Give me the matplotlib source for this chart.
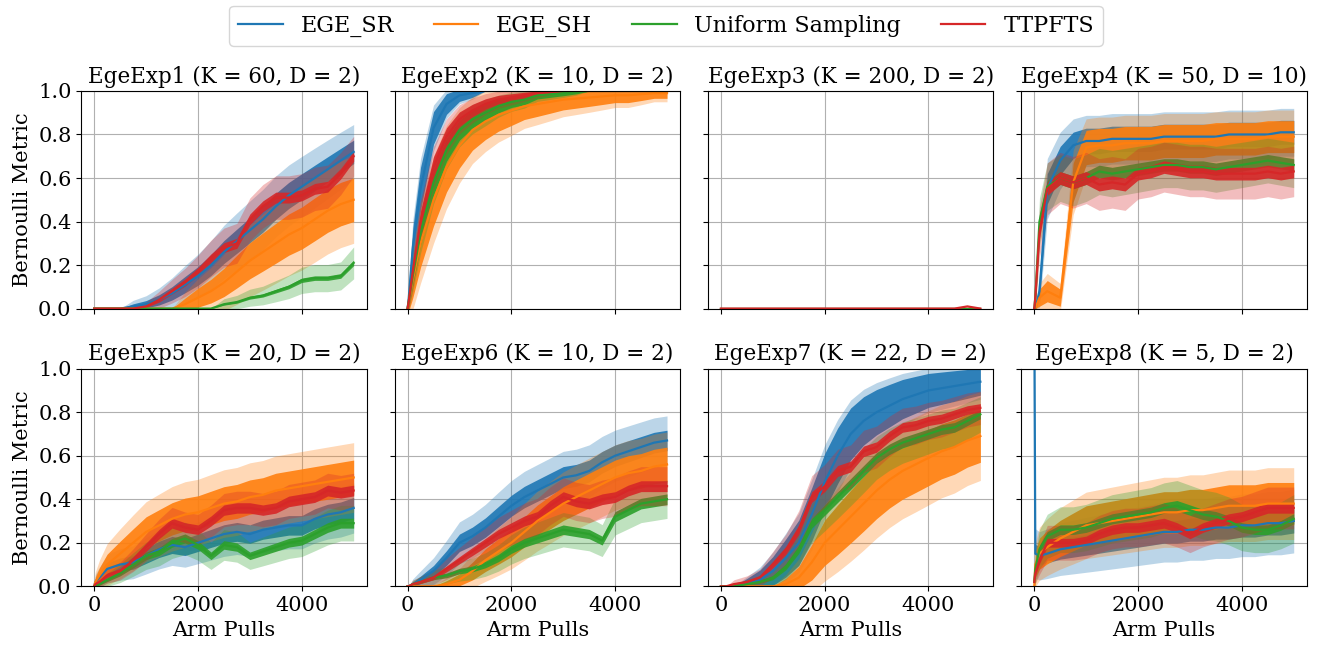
import matplotlib
matplotlib.use("Agg")
import matplotlib.pyplot as plt
import numpy as np

plt.rcParams['font.family'] = 'serif'
plt.rcParams['font.serif'] = ['DejaVu Serif']
plt.rcParams['font.size'] = 15

pulls = [0, 20, 100] + list(range(250, 5001, 250))

methods = ["EGE_SR", "EGE_SH", "Uniform Sampling", "TTPFTS"]
colors = ["tab:blue", "tab:orange", "tab:green", "tab:red"]

titles = ["EgeExp1 (K = 60, D = 2)", "EgeExp2 (K = 10, D = 2)",
          "EgeExp3 (K = 200, D = 2)", "EgeExp4 (K = 50, D = 10)",
          "EgeExp5 (K = 20, D = 2)", "EgeExp6 (K = 10, D = 2)",
          "EgeExp7 (K = 22, D = 2)", "EgeExp8 (K = 5, D = 2)"]

# mean Bernoulli metric, one list per method and experiment
sr1 = [0,0,0,0,0,0.01,0.02,0.04,0.07,0.11,0.15,0.2,0.26,0.31,0.36,0.41,0.47,0.52,0.56,0.6,0.64,0.68,0.72]
sh1 = [0,0,0,0,0,0,0,0,0,0.02,0.05,0.08,0.12,0.17,0.22,0.26,0.3,0.34,0.37,0.41,0.45,0.48,0.5]
us1 = [0,0,0,0,0,0,0,0,0,0,0,0,0.02,0.03,0.05,0.06,0.08,0.1,0.13,0.14,0.14,0.15,0.21]
tt1 = [0,0,0,0,0,0,0.01,0.04,0.08,0.12,0.17,0.23,0.28,0.3,0.41,0.47,0.51,0.51,0.52,0.55,0.56,0.62,0.7]

sr2 = [0,0.04,0.28,0.55,0.83,0.94,0.98,0.99,1,1,1,1,1,1,1,1,1,1,1,1,1,1,1]
sh2 = [0,0.02,0.13,0.3,0.5,0.65,0.75,0.82,0.86,0.89,0.91,0.93,0.94,0.95,0.96,0.965,0.97,0.975,0.98,0.98,0.985,0.99,0.99]
us2 = [0,0.03,0.15,0.35,0.58,0.73,0.82,0.87,0.9,0.93,0.95,0.96,0.98,0.985,0.99,0.995,1,1,1,1,1,1,1]
tt2 = [0,0.03,0.17,0.4,0.65,0.79,0.87,0.91,0.94,0.96,0.97,0.98,0.99,0.995,1,1,1,1,1,1,1,1,1]

sr3 = [0]*23
sh3 = [0]*23
us3 = [0]*23
tt3 = [0,0,0,0,0,0,0,0,0,0,0,0,0,0,0,0,0,0,0,0,0,0.01,0]

sr4 = [0,0,0.08,0.55,0.68,0.75,0.77,0.77,0.78,0.78,0.78,0.78,0.79,0.79,0.79,0.79,0.79,0.8,0.8,0.8,0.8,0.81,0.81]
sh4 = [0,0,0.05,0.08,0.05,0.58,0.74,0.75,0.75,0.76,0.76,0.76,0.77,0.77,0.77,0.77,0.78,0.78,0.78,0.78,0.79,0.79,0.79]
us4 = [0,0.05,0.4,0.56,0.6,0.58,0.6,0.63,0.62,0.63,0.64,0.65,0.66,0.66,0.65,0.65,0.64,0.65,0.66,0.67,0.68,0.67,0.66]
tt4 = [0,0.05,0.35,0.55,0.6,0.58,0.6,0.57,0.58,0.57,0.62,0.63,0.65,0.64,0.63,0.63,0.62,0.62,0.62,0.62,0.63,0.62,0.63]

sr5 = [0,0.02,0.04,0.08,0.1,0.11,0.14,0.17,0.19,0.18,0.2,0.22,0.24,0.25,0.24,0.26,0.27,0.28,0.28,0.31,0.33,0.34,0.36]
sh5 = [0,0.02,0.05,0.1,0.15,0.2,0.25,0.28,0.31,0.33,0.34,0.36,0.38,0.39,0.41,0.42,0.44,0.45,0.46,0.47,0.48,0.49,0.5]
us5 = [0,0,0.01,0.03,0.06,0.1,0.14,0.16,0.2,0.22,0.19,0.14,0.19,0.18,0.14,0.16,0.18,0.2,0.21,0.24,0.27,0.29,0.29]
tt5 = [0,0.01,0.02,0.05,0.07,0.12,0.18,0.24,0.29,0.27,0.26,0.3,0.35,0.36,0.36,0.35,0.36,0.39,0.4,0.41,0.44,0.43,0.44]

sr6 = [0,0,0.01,0.03,0.07,0.13,0.2,0.23,0.27,0.32,0.37,0.41,0.44,0.47,0.5,0.51,0.53,0.57,0.6,0.62,0.64,0.66,0.67]
sh6 = [0,0,0,0,0,0.01,0.03,0.07,0.12,0.16,0.2,0.25,0.3,0.34,0.38,0.41,0.44,0.47,0.5,0.52,0.53,0.55,0.56]
us6 = [0,0,0.01,0.02,0.04,0.05,0.07,0.08,0.1,0.13,0.17,0.2,0.22,0.24,0.26,0.25,0.24,0.21,0.32,0.35,0.38,0.39,0.4]
tt6 = [0,0,0.01,0.02,0.04,0.08,0.12,0.16,0.2,0.24,0.27,0.3,0.32,0.37,0.41,0.39,0.38,0.4,0.41,0.44,0.46,0.46,0.46]

sr7 = [0,0,0,0,0.01,0.03,0.07,0.13,0.2,0.33,0.48,0.6,0.7,0.76,0.8,0.83,0.86,0.88,0.9,0.91,0.92,0.93,0.94]
sh7 = [0,0,0,0,0,0,0,0.01,0.04,0.11,0.2,0.26,0.32,0.38,0.44,0.49,0.53,0.56,0.59,0.62,0.64,0.67,0.69]
us7 = [0,0,0,0,0.01,0.02,0.04,0.09,0.17,0.29,0.35,0.41,0.47,0.53,0.59,0.63,0.66,0.68,0.7,0.72,0.73,0.76,0.79]
tt7 = [0,0,0,0.01,0.02,0.04,0.1,0.165,0.26,0.41,0.46,0.53,0.55,0.62,0.64,0.69,0.73,0.74,0.76,0.77,0.79,0.81,0.82]

sr8 = [1.3,0.15,0.14,0.15,0.17,0.18,0.19,0.2,0.21,0.22,0.23,0.24,0.25,0.25,0.26,0.26,0.27,0.27,0.28,0.28,0.29,0.29,0.3]
sh8 = [0,0.1,0.15,0.18,0.22,0.25,0.28,0.29,0.3,0.31,0.32,0.33,0.34,0.34,0.35,0.35,0.36,0.37,0.37,0.37,0.38,0.38,0.38]
us8 = [0.02,0.08,0.17,0.23,0.26,0.26,0.27,0.29,0.31,0.32,0.33,0.34,0.36,0.37,0.35,0.33,0.32,0.3,0.27,0.26,0.26,0.28,0.31]
tt8 = [0.02,0.06,0.12,0.2,0.2,0.2,0.21,0.24,0.26,0.27,0.27,0.28,0.29,0.27,0.24,0.27,0.29,0.31,0.32,0.34,0.36,0.36,0.36]

results = [(sr1, sh1, us1, tt1), (sr2, sh2, us2, tt2), (sr3, sh3, us3, tt3),
           (sr4, sh4, us4, tt4), (sr5, sh5, us5, tt5), (sr6, sh6, us6, tt6),
           (sr7, sh7, us7, tt7), (sr8, sh8, us8, tt8)]

# run-to-run jitter of the mean curve (at metric 0.5), per experiment and method
spread = [[0.06, 0.1, 0.015, 0.025], [0.1, 0.12, 0.06, 0.05], [0, 0, 0, 0],
          [0.07, 0.09, 0.03, 0.03], [0.05, 0.08, 0.025, 0.025], [0.05, 0.08, 0.025, 0.025],
          [0.13, 0.13, 0.025, 0.025], [0.06, 0.1, 0.025, 0.025]]
# width of the shaded interval (at metric 0.5)
band = [[0.14, 0.2, 0.09, 0.1], [0.14, 0.2, 0.1, 0.1], [0, 0, 0, 0],
        [0.14, 0.15, 0.11, 0.12], [0.12, 0.16, 0.09, 0.08], [0.12, 0.15, 0.09, 0.09],
        [0.17, 0.22, 0.1, 0.1], [0.16, 0.17, 0.12, 0.1]]

fig, axes = plt.subplots(2, 4, figsize=(13.32, 6.45), dpi=100, sharex=True, sharey=True)
plt.subplots_adjust(left=0.061, right=0.981, top=0.859, bottom=0.091, wspace=0.098, hspace=0.276)

x = np.array(pulls, dtype=float)
for i, ax in enumerate(axes.flat):
    for j in range(4):
        m = np.array(results[i][j], dtype=float)
        mc = np.clip(m, 0, 1)
        scale = 2 * np.sqrt(mc * (1 - mc))
        s = spread[i][j] * scale
        b = band[i][j] * scale
        ax.fill_between(x, m - b, m + b, color=colors[j], alpha=0.3, lw=0)
        ax.fill_between(x, m - s, m + s, color=colors[j], alpha=0.9, lw=0)
        ax.plot(x, m, color=colors[j], lw=1.6, label=methods[j] if i == 0 else None)
    ax.set_title(titles[i], fontsize=15.5)
    ax.set_ylim(0, 1)
    ax.set_xticks([0, 2000, 4000])
    ax.set_yticks([0, 0.2, 0.4, 0.6, 0.8, 1.0])
    ax.grid(True)
    ax.set_axisbelow(True)
    if i % 4 == 0:
        ax.set_ylabel("Bernoulli Metric")
    if i >= 4:
        ax.set_xlabel("Arm Pulls")

handles, labels = axes.flat[0].get_legend_handles_labels()
fig.legend(handles, labels, loc='upper center', bbox_to_anchor=(0.5, 1.008), ncol=4,
           fontsize=16, handlelength=2.0, columnspacing=1.8)

plt.savefig("out.png", dpi=100)
